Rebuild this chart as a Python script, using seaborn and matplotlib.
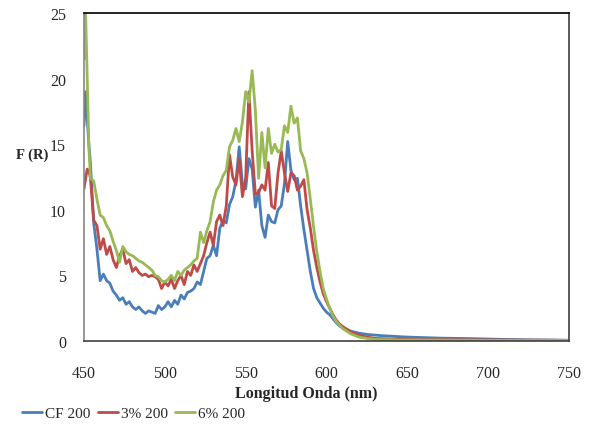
import pandas as pd
import matplotlib
matplotlib.use("Agg")
import matplotlib.pyplot as plt
import seaborn as sns

# Wavelength grid (nm)
wavelength = [450, 451, 452, 453, 454,
              456, 458, 460, 462, 464, 466, 468, 470, 472, 474, 476, 478, 480,
              482, 484, 486, 488, 490, 492, 494, 496, 498, 500, 502, 504, 506,
              508, 510, 512, 514, 516, 518, 520, 522, 524, 526, 528, 530, 532,
              534, 536, 538, 540, 542, 544, 546, 548, 550, 552, 554, 556, 558,
              560, 562, 564, 566, 568, 570, 572, 574, 576, 578, 580, 582, 584,
              586, 588, 590, 592, 594, 596, 598, 600, 602, 604, 606, 608, 610,
              615, 620, 625, 630, 635, 640, 645, 650, 660, 670, 680, 690, 700,
              710, 720, 730, 740, 750]

cf200 = [16.4, 19.0, 16.9, 15.0, 13.5,
         9.0, 7.0, 4.6, 5.1, 4.6, 4.4, 3.8, 3.5, 3.1, 3.3, 2.8, 3.0, 2.6,
         2.4, 2.6, 2.3, 2.1, 2.3, 2.2, 2.1, 2.7, 2.4, 2.6, 3.0, 2.6, 3.1,
         2.8, 3.5, 3.2, 3.7, 3.8, 4.0, 4.5, 4.3, 5.3, 6.3, 6.5, 7.3, 6.5,
         8.6, 9.2, 9.0, 10.4, 11.0, 12.2, 14.8, 12.0, 11.6, 13.9, 13.1, 10.2, 11.5,
         8.8, 7.9, 9.6, 9.1, 9.0, 10.0, 10.3, 12.0, 15.2, 13.0, 12.3, 12.4, 10.3,
         8.5, 6.9, 5.3, 4.0, 3.3, 2.9, 2.5, 2.2, 2.0, 1.7, 1.4, 1.15, 1.0,
         0.75, 0.6, 0.5, 0.45, 0.4, 0.37, 0.33, 0.3, 0.26, 0.22, 0.2, 0.18, 0.15,
         0.12, 0.1, 0.08, 0.07, 0.05]

p3_200 = [11.6, 12.4, 13.1, 13.0, 12.4,
          9.2, 8.8, 7.0, 7.8, 6.6, 7.2, 6.2, 5.6, 6.5, 7.0, 5.9, 6.2, 5.3,
          5.6, 5.2, 5.0, 5.1, 4.9, 5.0, 4.9, 4.7, 4.0, 4.5, 4.2, 4.7, 4.0,
          4.6, 5.0, 4.3, 5.3, 5.0, 5.8, 5.3, 5.9, 6.5, 7.5, 8.3, 7.3, 9.1,
          9.6, 8.8, 10.3, 14.2, 12.5, 11.9, 13.9, 11.0, 12.4, 19.0, 14.5, 11.2, 11.3,
          11.9, 11.5, 13.6, 10.3, 10.1, 12.8, 14.5, 12.8, 11.4, 12.8, 12.6, 11.5, 11.8,
          12.3, 10.0, 8.6, 6.9, 5.6, 4.5, 3.6, 3.0, 2.5, 2.0, 1.6, 1.3, 1.1,
          0.7, 0.45, 0.3, 0.2, 0.17, 0.15, 0.13, 0.12, 0.1, 0.1, 0.09, 0.09, 0.08,
          0.08, 0.07, 0.07, 0.06, 0.05]

p6_200 = [21.5, 25.0, 20.0, 14.8, 12.4,
          12.2, 10.8, 9.6, 9.4, 8.8, 8.4, 7.6, 6.9, 6.0, 7.2, 6.8, 6.6, 6.5,
          6.3, 6.1, 6.0, 5.8, 5.6, 5.4, 5.0, 4.9, 4.6, 4.5, 4.7, 5.0, 4.6,
          5.3, 5.0, 5.4, 5.6, 5.8, 6.1, 6.3, 8.3, 7.5, 8.4, 9.1, 10.6, 11.5,
          11.9, 12.6, 13.0, 14.8, 15.3, 16.2, 15.2, 16.7, 19.0, 18.2, 20.6, 17.6, 12.4,
          15.9, 13.2, 16.2, 14.3, 15.0, 14.4, 14.6, 16.4, 15.9, 17.9, 16.6, 17.0, 14.5,
          13.9, 12.8, 10.8, 8.7, 6.8, 5.3, 4.0, 3.2, 2.5, 1.9, 1.5, 1.2, 0.95,
          0.55, 0.3, 0.2, 0.12, 0.1, 0.1, 0.08, 0.08, 0.07, 0.07, 0.06, 0.06, 0.05,
          0.05, 0.05, 0.05, 0.05, 0.05]

series_names = ["CF 200", "3% 200", "6% 200"]
series_colors = ["#4A7EBB", "#BE4B48", "#98B954"]

x_ticks = [450, 500, 550, 600, 650, 700, 750]
y_ticks = [0, 5, 10, 15, 20, 25]

# long-form table for seaborn
df = pd.concat([
    pd.DataFrame({"nm": wavelength, "FR": vals, "serie": name})
    for name, vals in zip(series_names, [cf200, p3_200, p6_200])
])

sns.set_style("white")
plt.rcParams["font.family"] = ["Liberation Serif", "DejaVu Serif"]

fig = plt.figure(figsize=(5.92, 4.35), dpi=100)
ax = fig.add_axes([84 / 592, 1 - 342 / 435, (569 - 84) / 592, (342 - 14) / 435])

sns.lineplot(data=df, x="nm", y="FR", hue="serie", hue_order=series_names,
             palette=series_colors, linewidth=2.0, legend=False, ax=ax)

ax.set_xlim(450, 750)
ax.set_ylim(0, 25)
ax.set_xticks(x_ticks)
ax.set_yticks(y_ticks)
ax.set_xlabel("")
ax.set_ylabel("")
ax.tick_params(axis="x", direction="in", length=4, width=1, color="#868686",
               labelsize=11.5, pad=17)
ax.tick_params(axis="y", direction="in", length=4, width=1, color="#868686",
               labelsize=11.5, pad=13)

ax.spines["left"].set_color("#868686")
ax.spines["bottom"].set_color("#404040")
ax.spines["right"].set_color("#404040")
ax.spines["top"].set_color("black")
for s in ax.spines.values():
    s.set_linewidth(1.2)

fig.text(16 / 592, 1 - 155 / 435, "F (R)", fontsize=10.5, fontweight="bold",
         va="center", ha="left")
fig.text(306 / 592, 1 - 394 / 435, "Longitud Onda (nm)", fontsize=11.5,
         fontweight="bold", va="center", ha="center")

handles = [plt.Line2D([], [], color=c, linewidth=2.0) for c in series_colors]
fig.legend(handles, series_names, loc="center left",
           bbox_to_anchor=(22 / 592, 1 - 414 / 435), ncol=3, frameon=False,
           fontsize=11, handlelength=1.3, handletextpad=0.2,
           columnspacing=0.5, borderpad=0, borderaxespad=0)

fig.savefig("out.png", dpi=100)
